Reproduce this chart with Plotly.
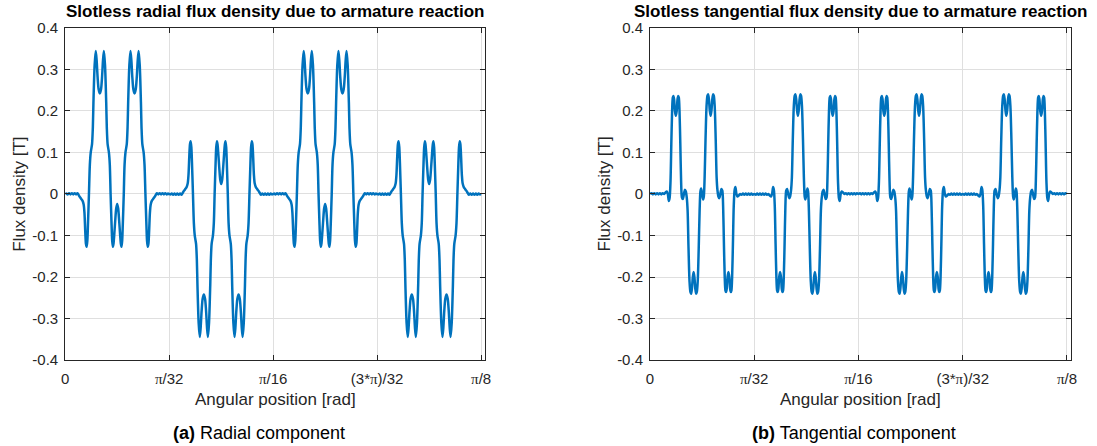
import numpy as np
import plotly.graph_objects as go

# ---------------- data ----------------
# centres of the repeating winding groups (rad) and their polarity
group_centers = [0.0491, 0.1473, 0.2454, 0.3436]
radial_signs = [1, -1, 1, -1]
tangential_signs = [1, -1, 1, -1]

# radial flux density of one (positive) group, offsets in mrad from its centre
radial_offsets_mrad = [
    -48.98, -48.04, -46.72, -45.40, -44.09, -42.77, -41.45, -40.13, -38.81, -37.49,
    -36.27, -35.04, -33.91, -32.78, -31.65, -30.90, -30.14, -29.48, -28.83, -28.17,
    -27.60, -26.66, -25.81, -24.96, -23.74, -22.98, -22.42, -21.29, -20.25, -19.41,
    -18.46, -17.52, -16.39, -15.26, -14.32, -13.38, -12.53, -11.49, -10.36, -9.80,
    -9.04, -7.82, -6.97, -6.22, -5.28, -4.71, -4.05, -3.49, -2.83, -1.88, -0.94,
    0.0,
    0.94, 1.88, 2.83, 3.49, 4.05, 4.71, 5.28, 6.22, 6.97, 7.82, 9.04, 9.80, 10.36,
    11.49, 12.53, 13.38, 14.32, 15.26, 16.39, 17.52, 18.46, 19.41, 20.25, 21.29,
    22.42, 22.98, 23.74, 24.96, 25.81, 26.66, 27.60, 28.17, 28.83, 29.48, 30.14,
    30.90, 31.65, 32.78, 33.91, 35.04, 36.27, 37.49, 38.81, 40.13, 41.45, 42.77,
    44.09, 45.40, 46.72, 48.04, 48.98,
]
radial_profile = [
    0.0, 0.001, -0.001, 0.002, -0.001, 0.002, -0.001, 0.002, -0.001, 0.002,
    -0.003, -0.008, -0.012, -0.016, -0.025, -0.045, -0.090, -0.120, -0.127, -0.112,
    -0.075, 0.000, 0.070, 0.100, 0.120, 0.160, 0.220, 0.310, 0.344, 0.322,
    0.280, 0.252, 0.242, 0.252, 0.280, 0.322, 0.344, 0.310, 0.220, 0.160,
    0.120, 0.100, 0.070, 0.000, -0.075, -0.112, -0.127, -0.120, -0.100, -0.065, -0.035,
    -0.024,
    -0.035, -0.065, -0.100, -0.120, -0.127, -0.112, -0.075, 0.000, 0.070, 0.100,
    0.120, 0.160, 0.220, 0.310, 0.344, 0.322, 0.280, 0.252, 0.242, 0.252,
    0.280, 0.322, 0.344, 0.310, 0.220, 0.160, 0.120, 0.100, 0.070, 0.000,
    -0.075, -0.112, -0.127, -0.120, -0.090, -0.045, -0.025, -0.016, -0.012, -0.008,
    -0.003, 0.002, -0.001, 0.002, -0.001, 0.002, -0.001, 0.002, -0.001, 0.001, 0.0,
]

# tangential flux density of one (positive-first) group, offsets in mrad
tangential_offsets_mrad = [
    -48.98, -47.67, -46.35, -45.03, -43.71, -42.39, -41.07, -39.75, -38.43, -37.11,
    -35.80, -34.38, -33.25, -32.31, -31.37, -30.62, -29.77, -29.01, -28.26, -27.60,
    -27.04, -26.38, -25.62, -24.77, -23.93, -23.17, -22.51, -21.95, -21.29, -20.54,
    -19.78, -19.03, -18.18, -17.14, -16.20, -15.35, -14.41, -13.66, -12.81, -11.87,
    -11.02, -10.36, -9.61, -8.76, -8.01, -7.25, -6.41, -5.65, -4.99, -4.14,
    -3.20, -2.36, -1.60, -0.94,
    0.0,
    0.94, 1.60, 2.36, 3.20, 4.14, 4.99, 5.65, 6.41, 7.25, 8.01,
    8.76, 9.61, 10.36, 11.02, 11.87, 12.81, 13.66, 14.41, 15.35, 16.20,
    17.14, 18.18, 19.03, 19.78, 20.54, 21.29, 21.95, 22.51, 23.17, 23.93,
    24.77, 25.62, 26.38, 27.04, 27.60, 28.26, 29.01, 29.77, 30.62, 31.37,
    32.31, 33.25, 34.38, 35.80, 37.11, 38.43, 39.75, 41.07, 42.39, 43.71,
    45.03, 46.35, 47.67, 48.98,
]
tangential_profile = [
    0.0, 0.002, -0.001, 0.002, -0.001, 0.002, -0.001, 0.002, -0.001, 0.002,
    0.000, 0.004, 0.006, 0.000, -0.017, -0.010, 0.030, 0.120, 0.200, 0.232,
    0.236, 0.228, 0.200, 0.188, 0.200, 0.228, 0.236, 0.232, 0.200, 0.120,
    0.030, -0.008, -0.012, 0.000, 0.010, 0.006, -0.010, -0.040, -0.130, -0.210,
    -0.236, -0.240, -0.228, -0.200, -0.188, -0.200, -0.228, -0.240, -0.236, -0.210,
    -0.130, -0.040, 0.006, 0.013,
    0.0,
    -0.013, -0.006, 0.040, 0.130, 0.210, 0.236, 0.240, 0.228, 0.200, 0.188,
    0.200, 0.228, 0.240, 0.236, 0.210, 0.130, 0.040, 0.010, -0.006, -0.010,
    0.000, 0.012, 0.008, -0.030, -0.120, -0.200, -0.232, -0.236, -0.228, -0.200,
    -0.188, -0.200, -0.228, -0.236, -0.232, -0.200, -0.120, -0.030, 0.010, 0.017,
    0.000, -0.006, -0.004, 0.000, -0.002, 0.001, -0.002, 0.001, -0.002, 0.001,
    -0.002, 0.001, -0.002, 0.0,
]

PI = "<span style='font-family:Liberation Serif, Times New Roman, serif'>π</span>"
x_tick_values = [0, np.pi / 32, np.pi / 16, 3 * np.pi / 32, np.pi / 8]
x_tick_labels = ["0", PI + "/32", PI + "/16", "(3*" + PI + ")/32", PI + "/8"]
y_tick_values = [-0.4, -0.3, -0.2, -0.1, 0.0, 0.1, 0.2, 0.3, 0.4]
y_tick_labels = ["-0.4", "-0.3", "-0.2", "-0.1", "0", "0.1", "0.2", "0.3", "0.4"]

titles = ["Slotless radial flux density due to armature reaction",
          "Slotless tangential flux density due to armature reaction"]
x_label = "Angular position [rad]"
y_label = "Flux density [T]"
captions = ["<b>(a)</b> Radial component", "<b>(b)</b> Tangential component"]


def build(offsets, profile, signs):
    xs, ys = [], []
    for c, s in zip(group_centers, signs):
        xs.extend(c + o / 1000.0 for o in offsets)
        ys.extend(s * v for v in profile)
    return xs, ys


xr, yr = build(radial_offsets_mrad, radial_profile, radial_signs)
xt, yt = build(tangential_offsets_mrad, tangential_profile, tangential_signs)

FONT = "Liberation Sans, Arial, sans-serif"
LINE = dict(color="#0072BD", width=2.5, shape="spline", smoothing=0.8)

fig = go.Figure()
fig.add_trace(go.Scatter(x=xr, y=yr, mode="lines", line=LINE, xaxis="x", yaxis="y",
                         showlegend=False))
fig.add_trace(go.Scatter(x=xt, y=yt, mode="lines", line=LINE, xaxis="x2", yaxis="y2",
                         showlegend=False))

W, H = 1097, 446


def px(x):  # horizontal page position -> paper fraction
    return ((x - 2.2) / 0.9929) / W


def py(y):  # vertical page position (from top) -> paper fraction
    return 1 - ((y - 8.0) / 0.964) / H


dom_left = [px(63.5), px(484.5)]
dom_right = [px(649.5), px(1071.5)]
dom_y = [py(360.0), py(26.8)]

xcommon = dict(range=[0, 1.01 * np.pi / 8], tickvals=x_tick_values, ticktext=x_tick_labels,
               showline=True, linecolor="#262626", linewidth=1, mirror="ticks",
               ticks="inside", ticklen=5, tickwidth=1, tickcolor="#262626",
               showgrid=True, gridcolor="#dfdfdf", gridwidth=1, zeroline=False,
               tickfont=dict(family=FONT, size=15, color="#262626"),
               ticklabelstandoff=5)
ycommon = dict(range=[-0.4, 0.4], tickvals=y_tick_values, ticktext=y_tick_labels,
               showline=True, linecolor="#262626", linewidth=1, mirror="ticks",
               ticks="inside", ticklen=5, tickwidth=1, tickcolor="#262626",
               showgrid=True, gridcolor="#dfdfdf", gridwidth=1, zeroline=False,
               tickfont=dict(family=FONT, size=15, color="#262626"),
               ticklabelstandoff=3)

fig.update_layout(
    width=W, height=H, margin=dict(l=0, r=0, t=0, b=0),
    paper_bgcolor="white", plot_bgcolor="white",
    xaxis=dict(domain=dom_left, anchor="y", **xcommon),
    yaxis=dict(domain=dom_y, anchor="x", **ycommon),
    xaxis2=dict(domain=dom_right, anchor="y2", **xcommon),
    yaxis2=dict(domain=dom_y, anchor="x2", **ycommon),
)

annotations = []
for dom, title, cap, cap_x, ylab_x in [(dom_left, titles[0], captions[0], 258.0, 18.0),
                                       (dom_right, titles[1], captions[1], 853.7, 604.0)]:
    cx = (dom[0] + dom[1]) / 2
    annotations.append(dict(text="<b>" + title + "</b>", x=cx, y=py(11.0),
                            xref="paper", yref="paper", showarrow=False,
                            xanchor="center", yanchor="middle",
                            font=dict(family=FONT, size=17, color="black")))
    annotations.append(dict(text=x_label, x=cx, y=py(399.5),
                            xref="paper", yref="paper", showarrow=False,
                            xanchor="center", yanchor="middle",
                            font=dict(family=FONT, size=17, color="#262626")))
    annotations.append(dict(text=y_label, x=px(ylab_x), y=(dom_y[0] + dom_y[1]) / 2,
                            xref="paper", yref="paper", showarrow=False, textangle=-90,
                            xanchor="center", yanchor="middle",
                            font=dict(family=FONT, size=17, color="#262626")))
    annotations.append(dict(text=cap, x=px(cap_x), y=py(433.0),
                            xref="paper", yref="paper", showarrow=False,
                            xanchor="center", yanchor="middle",
                            font=dict(family=FONT, size=18, color="black")))
fig.update_layout(annotations=annotations)

fig.write_html("out.html")
